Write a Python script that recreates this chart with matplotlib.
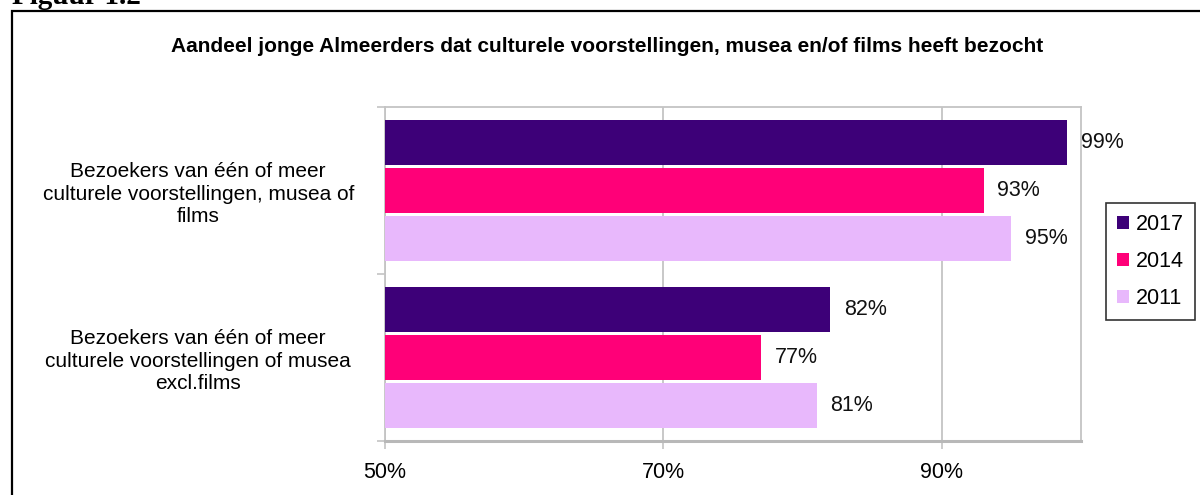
import numpy as np
import matplotlib
matplotlib.use("Agg")
import matplotlib.pyplot as plt
from matplotlib.patches import Patch, Rectangle

matplotlib.rcParams.update({
    "font.family": ["Liberation Sans", "DejaVu Sans"],
    "font.size": 15,
})

CATEGORIES = [
    "Bezoekers van één of meer\nculturele voorstellingen, musea of\nfilms",
    "Bezoekers van één of meer\nculturele voorstellingen of musea\nexcl.films",
]
YEARS = ["2017", "2014", "2011"]
VALUES = {
    "2017": [99, 82],
    "2014": [93, 77],
    "2011": [95, 81],
}
COLORS = {"2017": "#3D0078", "2014": "#FF0078", "2011": "#E8B8FC"}
X_TICKS = [50, 70, 90]

GRID = "#C4C4C4"

fig = plt.figure(figsize=(12, 4.95), dpi=100)
ax = fig.add_axes([385 / 1200, 1 - 441 / 495, (1081 - 385) / 1200, (441 - 107) / 495])

y = np.arange(len(CATEGORIES))
offsets = [-0.29, 0.0, 0.29]
height = 0.27

for year, off in zip(YEARS, offsets):
    vals = VALUES[year]
    bars = ax.barh(y + off, vals, height=height, left=0, color=COLORS[year],
                   label=year, zorder=3)
    for bar, v in zip(bars, vals):
        ax.annotate(f"{v}%", (v, bar.get_y() + bar.get_height() / 2),
                    xytext=(10, 0), textcoords="offset points",
                    ha="left", va="center", fontsize=15.5, color="#111")

ax.set_xlim(50, 100)
ax.set_ylim(1.5, -0.5)
ax.set_xticks(X_TICKS)
ax.set_xticklabels([f"{t}%" for t in X_TICKS], fontsize=15.5)
ax.tick_params(axis="x", length=6, width=1.2, color=GRID, pad=9)

# category labels sit between the group boundary ticks
ax.set_yticks([-0.5, 0.5, 1.5])
ax.set_yticklabels([])
ax.set_yticks(y, minor=True)
ax.set_yticklabels(CATEGORIES, minor=True, fontsize=15, ha="center",
                   multialignment="center", linespacing=1.22)
ax.tick_params(axis="y", which="major", length=6, width=1.2, color=GRID)
ax.tick_params(axis="y", which="minor", length=0, pad=134.5)

ax.grid(axis="x", color=GRID, linewidth=1.3, zorder=0)
for side in ["top", "right", "left"]:
    ax.spines[side].set_color(GRID)
    ax.spines[side].set_linewidth(1.3)
ax.spines["bottom"].set_color("#B8B8B8")
ax.spines["bottom"].set_linewidth(2.2)

fig.text(0.506, 1 - 46 / 495,
         "Aandeel jonge Almeerders dat culturele voorstellingen, musea en/of films heeft bezocht",
         ha="center", va="center", fontsize=15, fontweight="bold")

fig.text(12 / 1200, 1 - 4 / 495, "Figuur 1.2", ha="left", va="baseline",
         fontsize=21, fontweight="bold", family=["Liberation Serif"])

# outer frame around the chart
fig.patches.append(Rectangle((12 / 1200, -0.05), 1.0, 1 - 11 / 495 + 0.05,
                             transform=fig.transFigure, fill=False,
                             edgecolor="black", linewidth=1.6))

handles = [Patch(facecolor=COLORS[yr], label=yr) for yr in YEARS]
fig.legend(handles=handles, loc="upper left",
           bbox_to_anchor=(1106 / 1200, 1 - 203 / 495),
           frameon=True, fancybox=False, edgecolor="black", fontsize=15.5,
           handlelength=0.55, handleheight=0.55, handletextpad=0.35,
           labelspacing=0.75, borderpad=0.5, borderaxespad=0)
fig.legends[0].get_frame().set_linewidth(1.2)

fig.savefig("out.png", dpi=100)
